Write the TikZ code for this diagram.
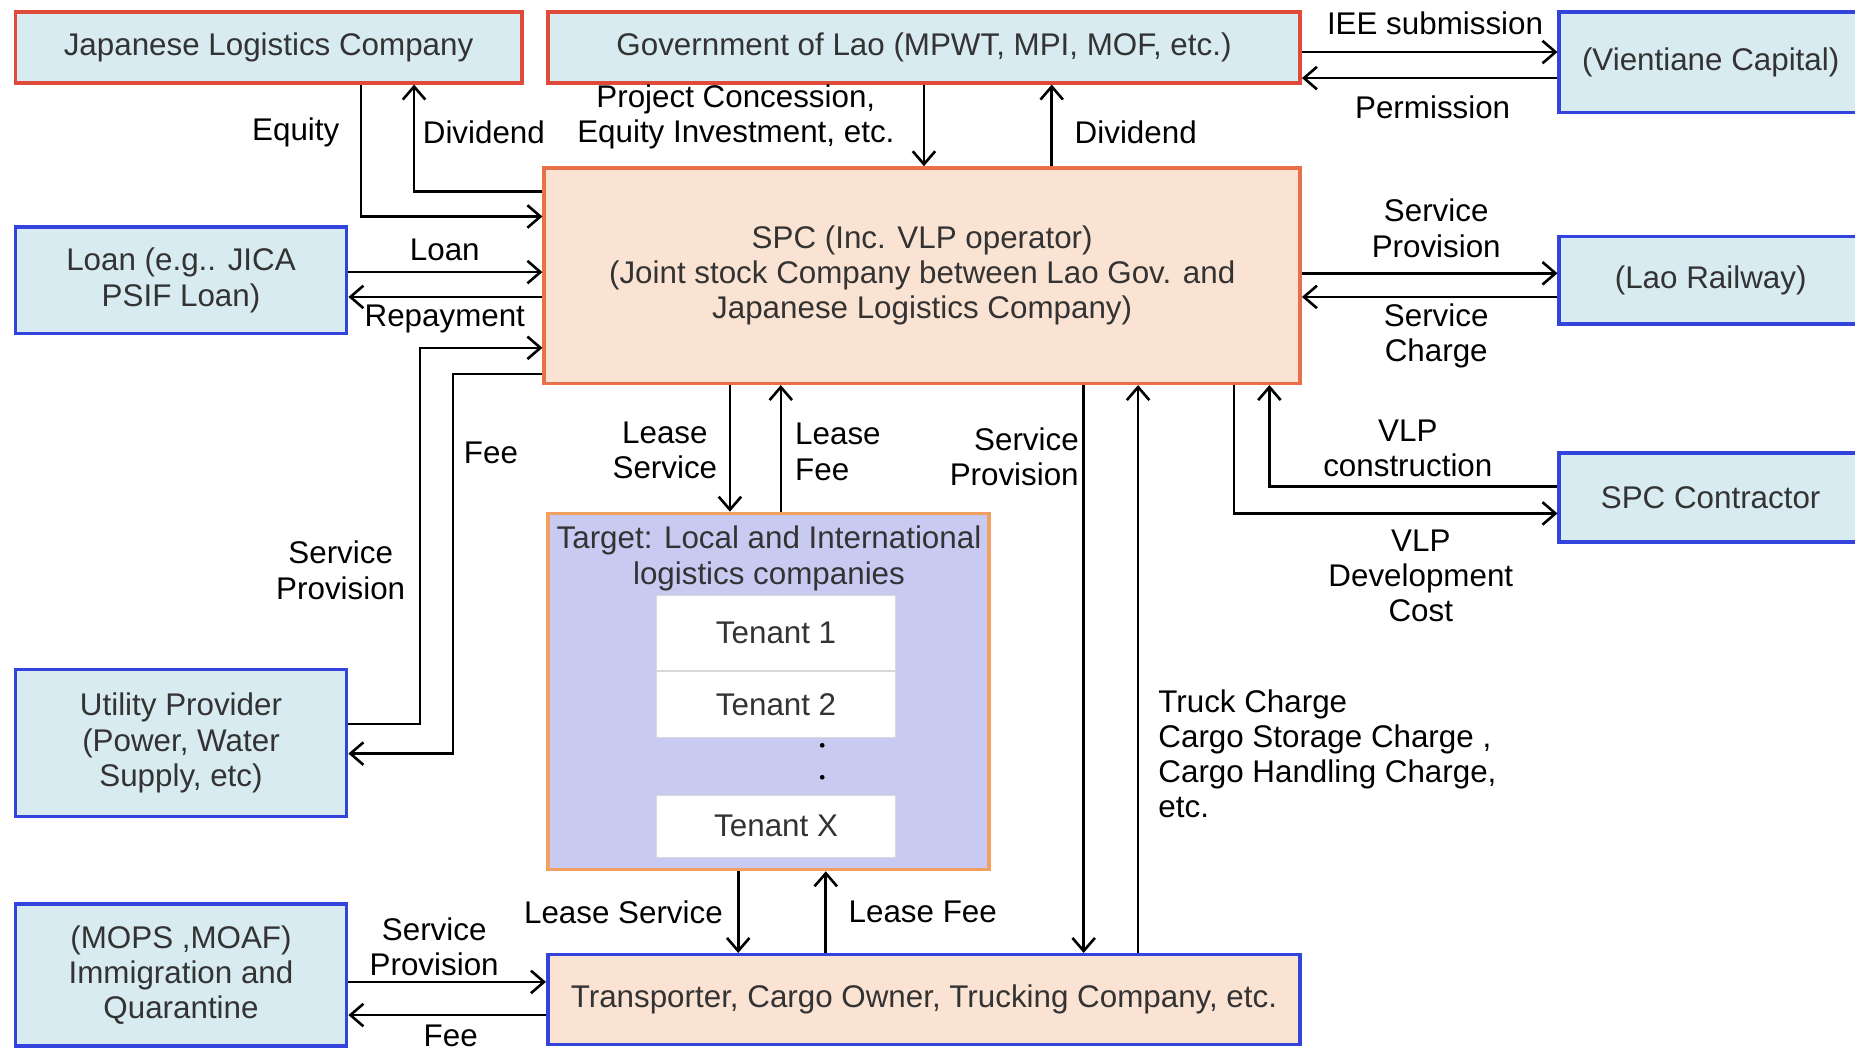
\documentclass[tikz,border=0pt]{standalone}
\usepackage{fontspec}
\setmainfont{Liberation Sans}
\usetikzlibrary{arrows.meta}
\definecolor{lblue}{HTML}{D8EBF1}
\definecolor{redb}{HTML}{E04A3A}
\definecolor{blueb}{HTML}{3344DD}
\definecolor{spcb}{HTML}{E8704A}
\definecolor{peach}{HTML}{FBE3D3}
\definecolor{tgtb}{HTML}{F0A060}
\definecolor{lav}{HTML}{C9CAF2}
\definecolor{boxtext}{HTML}{333333}
\newcommand\lblfont{\fontsize{26.5}{29.7}\selectfont}
\begin{document}
\begin{tikzpicture}[x=1pt,y=-1pt,
  box/.style={draw, line width=3pt, font=\lblfont, text=boxtext, align=center, inner sep=0pt},
  redbox/.style={box, draw=redb, fill=lblue},
  bluebox/.style={box, draw=blueb, fill=lblue},
  tenbox/.style={draw=black!15, line width=0.8pt, fill=white, font=\lblfont, text=boxtext, inner sep=0pt, minimum width=202, align=center},
  lbl/.style={font=\lblfont, align=center, inner sep=0pt, text=black},
  arr/.style={line width=2.2pt, -{Straight Barb[length=11pt,width=19pt]}}]
\clip (0,0) rectangle (1568,891);
\fill[white] (0,0) rectangle (1568,891);

% boxes
\node[redbox, minimum width=428, minimum height=60] (jlc) at (227,40) {Japanese Logistics Company};
\node[redbox, minimum width=636, minimum height=60] (gov) at (781,40) {Government of Lao (MPWT, MPI, MOF, etc.)};
\node[bluebox, minimum width=256, minimum height=85] (vie) at (1446,52.5) {(Vientiane Capital)};
\node[bluebox, minimum width=280, minimum height=90] (loan) at (153,237) {Loan (e.g.. JICA\\PSIF Loan)};
\node[box, draw=spcb, fill=peach, minimum width=639, minimum height=182] (spc) at (779.5,233) {SPC (Inc. VLP operator)\\(Joint stock Company between Lao Gov. and\\Japanese Logistics Company)};
\node[bluebox, minimum width=256, minimum height=74] (rail) at (1446,237) {(Lao Railway)};
\node[bluebox, minimum width=256, minimum height=75] (con) at (1446,420.5) {SPC Contractor};
\node[box, draw=tgtb, fill=lav, minimum width=373, minimum height=301] (tgt) at (649.5,584.5) {};
\node[lbl, text=boxtext] (tgttitle) at (650,472) {Target: Local and International\\logistics companies};
\node[tenbox, minimum height=64] (t1) at (656,535) {Tenant 1};
\node[tenbox, minimum height=55] (t2) at (656,595.5) {Tenant 2};
\node[tenbox, minimum height=53] (tx) at (656,698.5) {Tenant X};
\fill[black] (695,630) circle (2) (695,657) circle (2);
\node[bluebox, minimum width=280, minimum height=124] (util) at (153,628) {Utility Provider\\(Power, Water\\Supply, etc)};
\node[bluebox, minimum width=280, minimum height=120] (mops) at (153,824) {(MOPS ,MOAF)\\Immigration and\\Quarantine};
\node[box, draw=blueb, fill=peach, minimum width=636, minimum height=76] (trans) at (781,845) {Transporter, Cargo Owner, Trucking Company, etc.};

% connectors
\draw[arr] (jlc.south -| 305,0) |- (spc.west |- 0,183);
\draw[arr] (spc.west |- 0,162) -| (jlc.south -| 350,0);
\draw[arr] (gov.south -| 781,0) -- (spc.north -| 781,0);
\draw[arr] (spc.north -| 889,0) -- (gov.south -| 889,0);
\draw[arr] (gov.east |- 0,44) -- (vie.west |- 0,44);
\draw[arr] (vie.west |- 0,66) -- (gov.east |- 0,66);
\draw[arr] (loan.east |- 0,230) -- (spc.west |- 0,230);
\draw[arr] (spc.west |- 0,251) -- (loan.east |- 0,251);
\draw[arr] (util.east |- 0,612) -| (355,294) -- (spc.west |- 0,294);
\draw[arr] (spc.west |- 0,316) -| (383,637) -- (util.east |- 0,637);
\draw[arr] (spc.east |- 0,231) -- (rail.west |- 0,231);
\draw[arr] (rail.west |- 0,251) -- (spc.east |- 0,251);
\draw[arr] (con.west |- 0,411) -| (spc.south -| 1073,0);
\draw[arr] (spc.south -| 1043,0) |- (con.west |- 0,434);
\draw[arr] (spc.south -| 617,0) -- (tgt.north -| 617,0);
\draw[arr] (tgt.north -| 660,0) -- (spc.south -| 660,0);
\draw[arr] (spc.south -| 916,0) -- (trans.north -| 916,0);
\draw[arr] (trans.north -| 962,0) -- (spc.south -| 962,0);
\draw[arr] (tgt.south -| 624,0) -- (trans.north -| 624,0);
\draw[arr] (trans.north -| 698,0) -- (tgt.south -| 698,0);
\draw[arr] (mops.east |- 0,830) -- (trans.west |- 0,830);
\draw[arr] (trans.west |- 0,858) -- (mops.east |- 0,858);

% labels
\node[lbl] (l1) at (250,112) {Equity};
\node[lbl] (l2) at (409,112) {Dividend};
\node[lbl] (l3) at (622,99) {Project Concession,\\Equity Investment, etc.};
\node[lbl] (l4) at (960,112) {Dividend};
\node[lbl] (l5) at (1213,20) {IEE submission};
\node[lbl] (l6) at (1211,91) {Permission};
\node[lbl] (l7) at (376,211) {Loan};
\node[lbl] (l8) at (376,270) {Repayment};
\node[lbl] (l9) at (415,383) {Fee};
\node[lbl] (l10) at (288,482) {Service\\Provision};
\node[lbl] (l11) at (562,381) {Lease\\Service};
\node[lbl, align=left, anchor=west] (l12) at (672,382) {Lease\\Fee};
\node[lbl, align=right, anchor=east] (l13) at (912,386) {Service\\Provision};
\node[lbl] (l14) at (1214,193) {Service\\Provision};
\node[lbl] (l15) at (1214,284) {Service\\Charge};
\node[lbl] (l16) at (1190,379) {VLP\\construction};
\node[lbl] (l17) at (1201,487) {VLP\\Development\\Cost};
\node[lbl, align=left, anchor=west] (l18) at (979,637) {Truck Charge\\Cargo Storage Charge ,\\Cargo Handling Charge,\\etc.};
\node[lbl] (l19) at (527,771) {Lease Service};
\node[lbl] (l20) at (780,771) {Lease Fee};
\node[lbl] (l21) at (367,800) {Service\\Provision};
\node[lbl] (l22) at (381,876) {Fee};
\end{tikzpicture}
\end{document}
